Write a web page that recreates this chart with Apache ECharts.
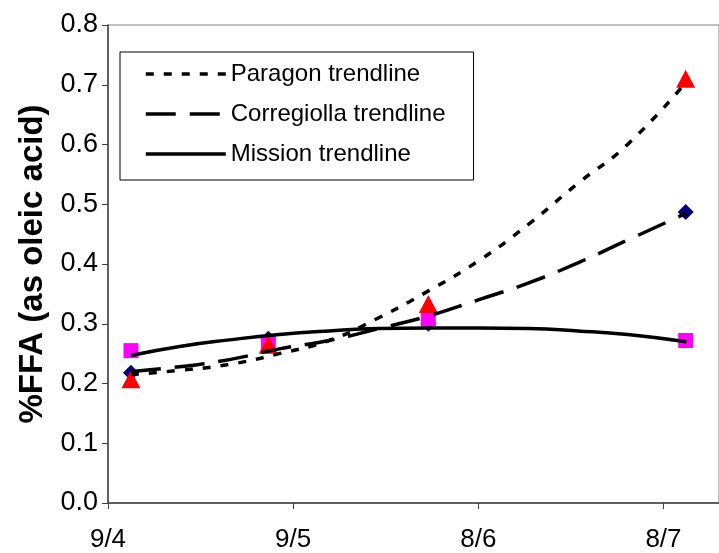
<!DOCTYPE html>
<html>
<head>
<meta charset="utf-8">
<script src="https://cdn.jsdelivr.net/npm/echarts@6/dist/echarts.min.js"></script>
<style>
html, body { margin: 0; padding: 0; background: #fff; }
#chart { width: 719px; height: 553px; }
</style>
</head>
<body>
<div id="chart"></div>
<script>
// x tick labels (one per axis unit)
var xLabels = ['9/4', '9/5', '8/6', '8/7'];

// measured points, x in axis units
var sampleX = [0.124, 0.866, 1.73, 3.12];
var paragonPts = [0.207, 0.265, 0.333, 0.71];
var corregiollaPts = [0.218, 0.275, 0.30, 0.487];
var missionPts = [0.255, 0.267, 0.308, 0.272];

// trendlines
var trendX = [0.124, 0.387, 0.656, 0.925, 1.194, 1.462, 1.731, 2.0, 2.269, 2.538, 2.806, 3.124];
var paragonTrend = [0.215, 0.222, 0.232, 0.250, 0.272, 0.310, 0.355, 0.405, 0.466, 0.535, 0.600, 0.705];
var corregiollaTrend = [0.220, 0.228, 0.240, 0.258, 0.272, 0.292, 0.313, 0.340, 0.368, 0.402, 0.440, 0.485];
var missionTrend = [0.247, 0.262, 0.273, 0.282, 0.288, 0.292, 0.293, 0.293, 0.292, 0.288, 0.282, 0.270];

function pairs(xs, ys) {
    return ys.map(function (v, i) { return [xs[i], v]; });
}

var dom = echarts.init(document.getElementById('chart'));
var font = 'Liberation Sans, Arial, sans-serif';

var option = {
    backgroundColor: '#fff',
    animation: false,
    grid: {
        left: 108,
        right: -3,
        top: 25,
        bottom: 48,
        show: true,
        borderColor: '#808080',
        borderWidth: 1
    },
    legend: {
        orient: 'vertical',
        left: 120,
        top: 52,
        padding: [10, 28, 14, 24],
        itemWidth: 80,
        itemHeight: 14,
        itemGap: 16,
        borderColor: '#000',
        borderWidth: 1,
        itemStyle: { opacity: 0 },
        lineStyle: { width: 3.5 },
        textStyle: { fontFamily: font, fontSize: 24, color: '#000' },
        data: ['Paragon trendline', 'Corregiolla trendline', 'Mission trendline']
    },
    xAxis: {
        type: 'value',
        min: 0,
        max: 3.3,
        interval: 1,
        splitLine: { show: false },
        axisLine: { lineStyle: { color: '#404040', width: 1.5 } },
        axisTick: { length: 6, lineStyle: { color: '#404040' } },
        axisLabel: {
            margin: 24,
            fontFamily: font,
            fontSize: 26,
            color: '#000',
            showMaxLabel: false,
            formatter: function (v) { return xLabels[Math.round(v)] || ''; }
        }
    },
    yAxis: {
        type: 'value',
        min: 0,
        max: 0.8,
        interval: 0.1,
        name: '%FFA (as oleic acid)',
        nameLocation: 'middle',
        nameRotate: 90,
        nameGap: 52,
        nameTextStyle: { fontFamily: font, fontSize: 33, fontWeight: 'bold', color: '#000' },
        splitLine: { show: false },
        axisLine: { show: true, lineStyle: { color: '#404040', width: 1.5 } },
        axisTick: { show: true, length: 6, lineStyle: { color: '#404040' } },
        axisLabel: {
            margin: 10,
            fontFamily: font,
            fontSize: 27,
            color: '#000',
            formatter: function (v) { return v.toFixed(1); }
        }
    },
    series: [{
        name: 'Corregiolla',
        type: 'scatter',
        symbol: 'diamond',
        symbolSize: 16,
        itemStyle: { color: '#000080', opacity: 1 },
        z: 2,
        data: pairs(sampleX, corregiollaPts)
    }, {
        name: 'Mission',
        type: 'scatter',
        symbol: 'rect',
        symbolSize: 15,
        itemStyle: { color: '#ff00ff', opacity: 1 },
        z: 3,
        data: pairs(sampleX, missionPts)
    }, {
        name: 'Paragon',
        type: 'scatter',
        symbol: 'triangle',
        symbolSize: [19, 18],
        itemStyle: { color: '#ff0000', opacity: 1 },
        z: 4,
        data: pairs(sampleX, paragonPts)
    }, {
        name: 'Paragon trendline',
        type: 'line',
        smooth: true,
        symbol: 'none',
        z: 5,
        lineStyle: { color: '#000', width: 3.5, type: [8, 10] },
        itemStyle: { color: '#000' },
        data: pairs(trendX, paragonTrend)
    }, {
        name: 'Corregiolla trendline',
        type: 'line',
        smooth: true,
        symbol: 'none',
        z: 5,
        lineStyle: { color: '#000', width: 3.5, type: [30, 14] },
        itemStyle: { color: '#000' },
        data: pairs(trendX, corregiollaTrend)
    }, {
        name: 'Mission trendline',
        type: 'line',
        smooth: true,
        symbol: 'none',
        z: 5,
        lineStyle: { color: '#000', width: 3.5 },
        itemStyle: { color: '#000' },
        data: pairs(trendX, missionTrend)
    }]
};

dom.setOption(option);
</script>
</body>
</html>
